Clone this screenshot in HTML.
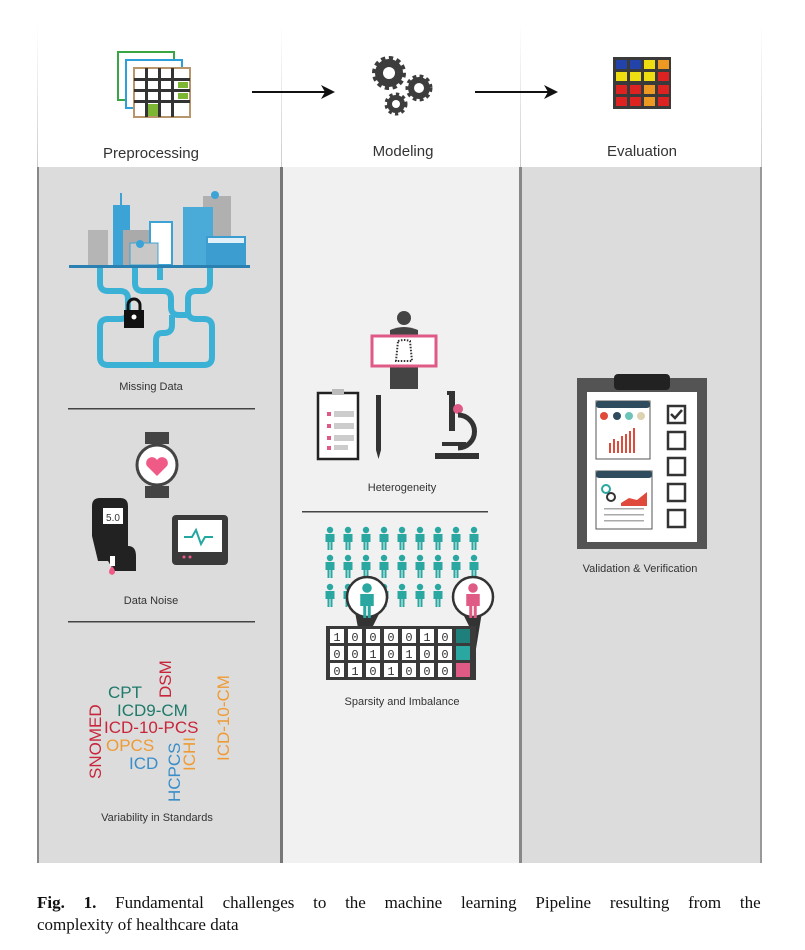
<!DOCTYPE html>
<html><head><meta charset="utf-8"><style>
html,body{margin:0;padding:0;background:#fff;}
svg{display:block}
</style></head><body>
<svg width="805" height="950" viewBox="0 0 805 950" xmlns="http://www.w3.org/2000/svg" font-family="Liberation Sans, sans-serif">
<defs>
<g id="p"><circle cx="0" cy="-8" r="3.2"/><path d="M-4.5,-4 h9 v8 h-2 v8 h-2 v-8 h-1 v8 h-2 v-8 h-2z"/></g>
<linearGradient id="lg" x1="0" y1="0" x2="0" y2="1"><stop offset="0" stop-color="#fff"/><stop offset="1" stop-color="#ccc"/></linearGradient>
</defs>
<rect width="805" height="950" fill="#fff"/>
<rect x="37" y="25" width="1" height="142" fill="url(#lg)"/>
<rect x="281" y="25" width="1" height="142" fill="url(#lg)"/>
<rect x="520" y="25" width="1" height="142" fill="url(#lg)"/>
<rect x="761" y="25" width="1" height="142" fill="url(#lg)"/>
<rect x="37" y="167" width="244" height="696" fill="#dcdcdd"/>
<rect x="282" y="167" width="238" height="696" fill="#f1f1f2"/>
<rect x="521" y="167" width="241" height="696" fill="#dcdcdd"/>
<rect x="37" y="167" width="2" height="696" fill="#888"/>
<rect x="280" y="167" width="3" height="696" fill="#777"/>
<rect x="519" y="167" width="3" height="696" fill="#888"/>
<rect x="760" y="167" width="2" height="696" fill="#999"/>

<rect x="118" y="52" width="56" height="48" fill="#fff" stroke="#3aa544" stroke-width="2"/>
<rect x="126" y="60" width="56" height="48" fill="#fff" stroke="#2d9fd9" stroke-width="2"/>
<rect x="134" y="68" width="56" height="49" fill="#fff" stroke="#b8956a" stroke-width="2"/>
<g fill="#333"><rect x="134" y="78" width="56" height="3"/><rect x="134" y="89" width="56" height="3"/><rect x="134" y="100" width="56" height="3"/><rect x="145" y="68" width="3" height="49"/><rect x="158" y="68" width="3" height="49"/><rect x="171" y="68" width="3" height="49"/></g>
<rect x="178" y="82" width="10" height="6" fill="#7cb633"/><rect x="178" y="93" width="10" height="6" fill="#7cb633"/><rect x="148" y="104" width="10" height="12" fill="#7cb633"/>
<text x="151" y="158" font-size="15" fill="#333" text-anchor="middle">Preprocessing</text>
<line x1="252" y1="92" x2="325" y2="92" stroke="#111" stroke-width="2"/><path d="M335,92 l-14,-7 l4,7 l-4,7z" fill="#111"/>
<line x1="475" y1="92" x2="548" y2="92" stroke="#111" stroke-width="2"/><path d="M558,92 l-14,-7 l4,7 l-4,7z" fill="#111"/>
<g fill="#3d3d3d">
<circle cx="389" cy="73" r="14" stroke="#3d3d3d" stroke-width="6" stroke-dasharray="4 3.3"/>
<circle cx="419" cy="88" r="11" stroke="#3d3d3d" stroke-width="5" stroke-dasharray="3.5 3"/>
<circle cx="396" cy="104" r="9" stroke="#3d3d3d" stroke-width="5" stroke-dasharray="3 3"/>
</g>
<circle cx="389" cy="73" r="6" fill="#fff"/><circle cx="419" cy="88" r="5" fill="#fff"/><circle cx="396" cy="104" r="4" fill="#fff"/>
<text x="403" y="156" font-size="15" fill="#333" text-anchor="middle">Modeling</text>
<rect x="613" y="57" width="58" height="52" fill="#3a3a3a"/>
<g>
<rect x="616" y="60" width="11" height="9" fill="#2244aa"/><rect x="630" y="60" width="11" height="9" fill="#2244aa"/><rect x="644" y="60" width="11" height="9" fill="#eedd11"/><rect x="658" y="60" width="11" height="9" fill="#ee9922"/>
<rect x="616" y="72" width="11" height="9" fill="#eedd11"/><rect x="630" y="72" width="11" height="9" fill="#eedd11"/><rect x="644" y="72" width="11" height="9" fill="#eedd11"/><rect x="658" y="72" width="11" height="9" fill="#dd2222"/>
<rect x="616" y="85" width="11" height="9" fill="#dd2222"/><rect x="630" y="85" width="11" height="9" fill="#dd2222"/><rect x="644" y="85" width="11" height="9" fill="#ee9922"/><rect x="658" y="85" width="11" height="9" fill="#dd2222"/>
<rect x="616" y="97" width="11" height="9" fill="#dd2222"/><rect x="630" y="97" width="11" height="9" fill="#dd2222"/><rect x="644" y="97" width="11" height="9" fill="#ee9922"/><rect x="658" y="97" width="11" height="9" fill="#dd2222"/>
</g>
<text x="642" y="156" font-size="15" fill="#333" text-anchor="middle">Evaluation</text>

<g>
<rect x="88" y="230" width="20" height="35" fill="#b5b5b5"/>
<rect x="113" y="205" width="17" height="60" fill="#3ca3d6"/><rect x="120" y="193" width="2" height="12" fill="#3ca3d6"/>
<rect x="123" y="230" width="30" height="35" fill="#aaa"/>
<rect x="150" y="222" width="22" height="43" fill="#fff" stroke="#3ca3d6" stroke-width="2"/>
<rect x="130" y="243" width="28" height="22" fill="#c8c8c8" stroke="#3ca3d6" stroke-width="1"/><circle cx="140" cy="244" r="4" fill="#3ca3d6"/>
<rect x="203" y="196" width="28" height="69" fill="#b0b0b0"/><circle cx="215" cy="195" r="4" fill="#3ca3d6"/>
<rect x="183" y="207" width="30" height="58" fill="#4aaad8"/>
<rect x="206" y="236" width="40" height="29" fill="#3c9ed0"/><rect x="208" y="238" width="36" height="5" fill="#e0f0f8"/>
<rect x="69" y="265" width="181" height="3" fill="#2a80b0"/>
</g>
<g fill="none" stroke="#3bb1d6" stroke-width="6">
<path d="M100,268 v15 q0,8 8,8 h12 q8,0 8,8 v12 q0,8 -8,8 h-12 q-8,0 -8,8 v30 q0,8 8,8 h96 q8,0 8,-8 v-30 q0,-8 -8,-8 h-8 q-8,0 -8,-8 v-12 q0,-8 8,-8 h6 q8,0 8,-8 v-15"/>
<path d="M135,268 v15 q0,8 8,8 h20 q8,0 8,8 v8 q0,8 8,8 h12"/>
<path d="M160,268 v12 M172,315 v10 q0,8 -8,8 h-2 q-6,0 -6,8 v27"/>
</g>
<rect x="124" y="310" width="20" height="18" fill="#111"/><path d="M128,310 v-5 a6,6 0 0 1 12,0 v5" fill="none" stroke="#111" stroke-width="3"/><circle cx="134" cy="317" r="2.5" fill="#fff"/>
<text x="151" y="390" font-size="11" fill="#333" text-anchor="middle">Missing Data</text>
<rect x="68" y="408" width="187" height="1.5" fill="#444"/>

<rect x="145" y="432" width="24" height="12" fill="#444"/><rect x="145" y="486" width="24" height="12" fill="#444"/>
<circle cx="157" cy="465" r="20" fill="#fff" stroke="#444" stroke-width="3"/>
<path d="M157,476 l-10,-10 a5,5 0 0 1 10,-6 a5,5 0 0 1 10,6z" fill="#ef5a86"/>
<path d="M92,506 q0,-8 8,-8 h20 q8,0 8,8 v40 q8,0 8,10 v15 h-22 l-6,-10 h-10 l-6,-25 z" fill="#222"/>
<rect x="103" y="508" width="20" height="16" fill="#fff"/><text x="113" y="521" font-size="10" fill="#333" text-anchor="middle">5.0</text>
<rect x="110" y="556" width="5" height="10" fill="#fff"/><path d="M112,566 q-6,7 0,9 q6,-2 0,-9z" fill="#ef5a86"/>
<rect x="172" y="515" width="56" height="50" rx="4" fill="#3a3a3a"/><rect x="178" y="520" width="44" height="32" fill="#fff"/>
<path d="M184,537 h8 l4,-7 l5,14 l4,-7 h8" fill="none" stroke="#22a8a0" stroke-width="2"/>
<circle cx="184" cy="557" r="1.5" fill="#ef5a86"/><circle cx="190" cy="557" r="1.5" fill="#ef5a86"/>
<text x="151" y="604" font-size="11" fill="#333" text-anchor="middle">Data Noise</text>
<rect x="68" y="621" width="187" height="1.5" fill="#444"/>

<g font-size="17">
<text x="108" y="698" fill="#1f7a6a">CPT</text>
<text x="117" y="716" fill="#1f7a6a">ICD9-CM</text>
<text x="104" y="733" fill="#c8253a">ICD-10-PCS</text>
<text x="106" y="751" fill="#ef9b35">OPCS</text>
<text x="129" y="769" fill="#3a8ec8">ICD</text>
<text transform="translate(101,779) rotate(-90)" fill="#c8253a">SNOMED</text>
<text transform="translate(171,698) rotate(-90)" fill="#c8253a">DSM</text>
<text transform="translate(180,802) rotate(-90)" fill="#3a8ec8">HCPCS</text>
<text transform="translate(195,771) rotate(-90)" fill="#ef9b35">ICHI</text>
<text transform="translate(229,761) rotate(-90)" fill="#ef9b35">ICD-10-CM</text>
</g>
<text x="157" y="821" font-size="11" fill="#333" text-anchor="middle">Variability in Standards</text>

<circle cx="404" cy="318" r="7" fill="#444"/><path d="M390,330 q14,-6 28,0 v59 h-28z" fill="#444"/>
<rect x="372" y="336" width="64" height="30" fill="#fff" stroke="#e05a86" stroke-width="3"/>
<path d="M398,341 q6,-2 12,0 l2,20 h-16z" fill="none" stroke="#333" stroke-width="2" stroke-dasharray="1.5 1.5"/>
<rect x="318" y="393" width="40" height="66" fill="#fff" stroke="#222" stroke-width="2.5"/><rect x="332" y="389" width="12" height="6" fill="#bbb"/>
<g fill="#e05a86"><rect x="327" y="412" width="4" height="4"/><rect x="327" y="424" width="4" height="4"/><rect x="327" y="436" width="4" height="4"/><rect x="327" y="446" width="4" height="4"/></g>
<g fill="#ccc"><rect x="334" y="411" width="20" height="6"/><rect x="334" y="423" width="20" height="6"/><rect x="334" y="435" width="20" height="6"/><rect x="334" y="445" width="14" height="5"/></g>
<path d="M376,395 h5 v55 l-2.5,9 l-2.5,-9z" fill="#333"/>
<rect x="447" y="391" width="8" height="4" fill="#333"/><rect x="449" y="395" width="6" height="36" fill="#333"/><circle cx="458" cy="409" r="5" fill="#e05a86"/>
<path d="M458,415 a15,15 0 0 1 0,33" fill="none" stroke="#333" stroke-width="5"/>
<rect x="442" y="442" width="24" height="4" fill="#333"/><rect x="435" y="453" width="44" height="6" fill="#333"/>
<text x="402" y="491" font-size="11" fill="#333" text-anchor="middle">Heterogeneity</text>
<rect x="302" y="511" width="186" height="1.5" fill="#444"/>

<g fill="#2aa7a0">
<use href="#p" x="330" y="538"/><use href="#p" x="348" y="538"/><use href="#p" x="366" y="538"/><use href="#p" x="384" y="538"/><use href="#p" x="402" y="538"/><use href="#p" x="420" y="538"/><use href="#p" x="438" y="538"/><use href="#p" x="456" y="538"/><use href="#p" x="474" y="538"/>
<use href="#p" x="330" y="566"/><use href="#p" x="348" y="566"/><use href="#p" x="366" y="566"/><use href="#p" x="384" y="566"/><use href="#p" x="402" y="566"/><use href="#p" x="420" y="566"/><use href="#p" x="438" y="566"/><use href="#p" x="456" y="566"/><use href="#p" x="474" y="566"/>
<use href="#p" x="330" y="595"/><use href="#p" x="348" y="595"/><use href="#p" x="384" y="595"/><use href="#p" x="402" y="595"/><use href="#p" x="420" y="595"/><use href="#p" x="438" y="595"/>
</g>
<path d="M355,612 L358,628 L372,628 L380,612z" fill="#333"/>
<path d="M462,612 L470,628 L475,655 L482,612z" fill="#333"/>
<circle cx="367" cy="597" r="20" fill="#fff" stroke="#333" stroke-width="2.5"/>
<circle cx="473" cy="597" r="20" fill="#fff" stroke="#333" stroke-width="2.5"/>
<g fill="#2aa7a0" transform="translate(367,600) scale(1.5)"><use href="#p"/></g>
<g fill="#e05a86" transform="translate(473,600) scale(1.5)"><use href="#p"/></g>
<rect x="326" y="626" width="150" height="54" fill="#3a3a3a"/>
<g fill="#fff">
<rect x="330" y="629" width="14" height="14"/><rect x="348" y="629" width="14" height="14"/><rect x="366" y="629" width="14" height="14"/><rect x="384" y="629" width="14" height="14"/><rect x="402" y="629" width="14" height="14"/><rect x="420" y="629" width="14" height="14"/><rect x="438" y="629" width="14" height="14"/>
<rect x="330" y="646" width="14" height="14"/><rect x="348" y="646" width="14" height="14"/><rect x="366" y="646" width="14" height="14"/><rect x="384" y="646" width="14" height="14"/><rect x="402" y="646" width="14" height="14"/><rect x="420" y="646" width="14" height="14"/><rect x="438" y="646" width="14" height="14"/>
<rect x="330" y="663" width="14" height="14"/><rect x="348" y="663" width="14" height="14"/><rect x="366" y="663" width="14" height="14"/><rect x="384" y="663" width="14" height="14"/><rect x="402" y="663" width="14" height="14"/><rect x="420" y="663" width="14" height="14"/><rect x="438" y="663" width="14" height="14"/>
</g>
<rect x="456" y="629" width="14" height="14" fill="#1f7f7a"/><rect x="456" y="646" width="14" height="14" fill="#2aa7a0"/><rect x="456" y="663" width="14" height="14" fill="#e05a86"/>
<g font-size="12" fill="#333" text-anchor="middle" font-family="Liberation Mono, monospace">
<text x="337" y="641">1</text><text x="355" y="641">0</text><text x="373" y="641">0</text><text x="391" y="641">0</text><text x="409" y="641">0</text><text x="427" y="641">1</text><text x="445" y="641">0</text>
<text x="337" y="658">0</text><text x="355" y="658">0</text><text x="373" y="658">1</text><text x="391" y="658">0</text><text x="409" y="658">1</text><text x="427" y="658">0</text><text x="445" y="658">0</text>
<text x="337" y="675">0</text><text x="355" y="675">1</text><text x="373" y="675">0</text><text x="391" y="675">1</text><text x="409" y="675">0</text><text x="427" y="675">0</text><text x="445" y="675">0</text>
</g>
<text x="402" y="705" font-size="11" fill="#333" text-anchor="middle">Sparsity and Imbalance</text>

<rect x="577" y="378" width="130" height="171" fill="#545454"/>
<rect x="587" y="392" width="110" height="150" fill="#fff"/>
<rect x="614" y="374" width="56" height="16" rx="4" fill="#222"/>
<rect x="596" y="401" width="54" height="58" fill="#fff" stroke="#555" stroke-width="1"/><rect x="596" y="401" width="54" height="7" rx="3" fill="#2f4b5e"/>
<circle cx="604" cy="416" r="4" fill="#e04a3a"/><circle cx="617" cy="416" r="4" fill="#2f4b5e"/><circle cx="629" cy="416" r="4" fill="#6cc4b8"/><circle cx="641" cy="416" r="4" fill="#ddd3b0"/>
<g fill="#e04a3a"><rect x="609" y="443" width="2" height="10"/><rect x="613" y="439" width="2" height="14"/><rect x="617" y="441" width="2" height="12"/><rect x="621" y="436" width="2" height="17"/><rect x="625" y="434" width="2" height="19"/><rect x="629" y="431" width="2" height="22"/><rect x="633" y="428" width="2" height="25"/></g>
<rect x="596" y="471" width="56" height="58" fill="#fff" stroke="#555" stroke-width="1"/><rect x="596" y="471" width="56" height="7" rx="3" fill="#2f4b5e"/>
<circle cx="606" cy="489" r="4" fill="none" stroke="#2aa7a0" stroke-width="2"/><circle cx="611" cy="497" r="4" fill="none" stroke="#333" stroke-width="2"/>
<path d="M621,503 l8,-5 l8,2 l10,-8 v14 h-26z" fill="#e04a3a"/>
<g fill="#aaa"><rect x="604" y="508" width="40" height="1.5"/><rect x="604" y="514" width="40" height="1.5"/><rect x="604" y="520" width="40" height="1.5"/></g>
<g fill="none" stroke="#333" stroke-width="2.5"><rect x="668" y="406" width="17" height="17"/><rect x="668" y="432" width="17" height="17"/><rect x="668" y="458" width="17" height="17"/><rect x="668" y="484" width="17" height="17"/><rect x="668" y="510" width="17" height="17"/></g>
<path d="M671,414 l4,4 l7,-8" fill="none" stroke="#333" stroke-width="2.5"/>
<text x="640" y="572" font-size="11" fill="#333" text-anchor="middle">Validation &amp; Verification</text>

<g font-family="Liberation Serif, serif" font-size="17" fill="#111">
<text x="37" y="908" word-spacing="14.5"><tspan font-weight="bold">Fig. 1.</tspan> Fundamental challenges to the machine learning Pipeline resulting from the</text>
<text x="37" y="930">complexity of healthcare data</text>
</g>
</svg>
</body></html>
